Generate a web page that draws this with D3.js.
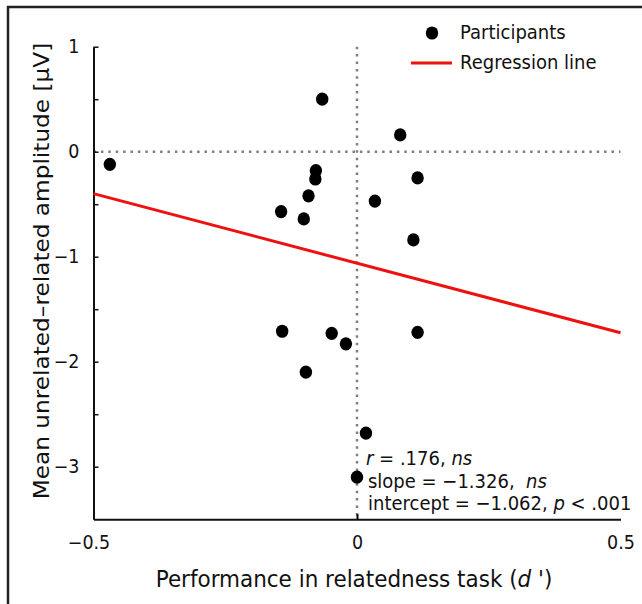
<!DOCTYPE html>
<html>
<head>
<meta charset="utf-8">
<script src="https://cdn.jsdelivr.net/npm/d3@7"></script>
<style>
  body { margin: 0; background: #fff; }
  text { font-family: "DejaVu Sans", sans-serif; fill: #111; }
</style>
</head>
<body>
<div id="chart"></div>
<script>
// participant values: d' difference (x) vs amplitude difference (y)
var perfX = [-0.469, -0.066, 0.082, -0.078, -0.079, 0.115, -0.092, 0.034, -0.144,
             -0.101, 0.107, -0.142, -0.048, -0.021, 0.115, -0.097, 0.017, 0.000];
var ampY = [-0.12, 0.50, 0.16, -0.18, -0.26, -0.25, -0.42, -0.47, -0.57,
            -0.64, -0.84, -1.71, -1.73, -1.83, -1.72, -2.10, -2.68, -3.10];

var regSlope = -1.326;
var regIntercept = -1.062;

var xTicks = [-0.5, 0, 0.5];
var yTicks = [1, 0.5, 0, -0.5, -1, -1.5, -2, -2.5, -3];

var statLines = [
  [["r", true], [" = .176, ", false], ["ns", true]],
  [["slope = \u22121.326,  ", false], ["ns", true]],
  [["intercept = \u22121.062, ", false], ["p", true], [" < .001", false]]
];

var svgWidth = 642;
var svgHeight = 604;
// the original figure is slightly stretched vertically
var stretch = 1.08;

var svg = d3.select("#chart")
  .append("svg")
  .attr("width", svgWidth)
  .attr("height", svgHeight);

// frame (top and left edges only)
svg.append("path")
  .attr("d", "M8,604 L8,7 L642,7")
  .attr("fill", "none")
  .attr("stroke", "#222")
  .attr("stroke-width", 2.5);

var x = d3.scaleLinear().domain([-0.5, 0.5]).range([93.5, 620.5]);
var y = d3.scaleLinear().domain([-3.5, 1]).range([519.2, 46.7]);

var fmt = function(d) { return (d < 0 ? "\u2212" : "") + Math.abs(d); };

// helper: text anchored at (px, py), stretched vertically around its baseline
function stretchedText(px, py, size) {
  return svg.append("g")
    .attr("transform", `translate(${px}, ${py}) scale(1, ${stretch})`)
    .append("text")
    .attr("font-size", size);
}

// zero reference lines
svg.append("line")
  .attr("x1", x(-0.5)).attr("x2", x(0.5))
  .attr("y1", y(0)).attr("y2", y(0))
  .attr("stroke", "#808080")
  .attr("stroke-width", 2.5)
  .attr("stroke-dasharray", "2.5,4.9");

svg.append("line")
  .attr("x1", x(0)).attr("x2", x(0))
  .attr("y1", y(1)).attr("y2", y(-3.5))
  .attr("stroke", "#808080")
  .attr("stroke-width", 2.5)
  .attr("stroke-dasharray", "2.5,4.9");

// axes
var xAxis = svg.append("g")
  .attr("transform", `translate(0, ${y(-3.5)})`)
  .call(d3.axisBottom(x).tickValues(xTicks).tickFormat(fmt)
    .tickSizeInner(-5).tickSizeOuter(0).tickPadding(15.5));

xAxis.selectAll(".tick line").attr("stroke-width", d => d === 0 ? 2 : 0);
xAxis.selectAll(".tick text").attr("dx", d => d < 0 ? "-5" : "0");

var yAxis = svg.append("g")
  .attr("transform", `translate(${x(-0.5)}, 0)`)
  .call(d3.axisLeft(y).tickValues(yTicks)
    .tickFormat(d => Number.isInteger(d) ? fmt(d) : "")
    .tickSizeInner(-5).tickSizeOuter(0).tickPadding(14));

svg.selectAll(".domain").attr("stroke", "#111").attr("stroke-width", 2);
yAxis.selectAll(".tick line").attr("stroke", "#111").attr("stroke-width", 1.5);
svg.selectAll(".tick text")
  .attr("font-size", "17.5px")
  .attr("font-family", "DejaVu Sans, sans-serif")
  .attr("transform", `scale(1, ${stretch})`)
  .style("fill", "#111");

// regression line
svg.append("line")
  .attr("x1", x(-0.5)).attr("y1", y(regIntercept + regSlope * -0.5))
  .attr("x2", x(0.5)).attr("y2", y(regIntercept + regSlope * 0.5))
  .attr("stroke", "#ee1111")
  .attr("stroke-width", 3);

// participants
svg.append("g")
  .selectAll("ellipse")
  .data(perfX)
  .enter()
  .append("ellipse")
  .attr("cx", d => x(d))
  .attr("cy", (d, i) => y(ampY[i]))
  .attr("rx", 6.2)
  .attr("ry", 6.6)
  .attr("fill", "#000");

// legend
svg.append("ellipse")
  .attr("cx", 432).attr("cy", 33)
  .attr("rx", 6.2).attr("ry", 6.6)
  .attr("fill", "#000");
stretchedText(460, 39, "18px").text("Participants");

svg.append("line")
  .attr("x1", 411).attr("x2", 452)
  .attr("y1", 63).attr("y2", 63)
  .attr("stroke", "#ee1111")
  .attr("stroke-width", 3);
stretchedText(460, 69, "18px").text("Regression line");

// statistics
statLines.forEach(function(parts, i) {
  var t = stretchedText(i === 0 ? 366 : 368, 465 + i * 22.5, "18px")
    .attr("xml:space", "preserve")
    .style("white-space", "pre");
  parts.forEach(function(p) {
    t.append("tspan")
      .attr("font-style", p[1] ? "italic" : "normal")
      .text(p[0]);
  });
});

// axis titles
var xTitle = stretchedText(354, 587, "21.5px")
  .attr("text-anchor", "middle");
xTitle.append("tspan").text("Performance in relatedness task (");
xTitle.append("tspan").attr("font-style", "italic").text("d");
xTitle.append("tspan").text(" ')");

svg.append("text")
  .attr("transform", `translate(49, 271) scale(1, ${stretch}) rotate(-90)`)
  .attr("text-anchor", "middle")
  .attr("font-size", "21.5px")
  .text("Mean unrelated\u2013related amplitude [\u00b5V]");
</script>
</body>
</html>
